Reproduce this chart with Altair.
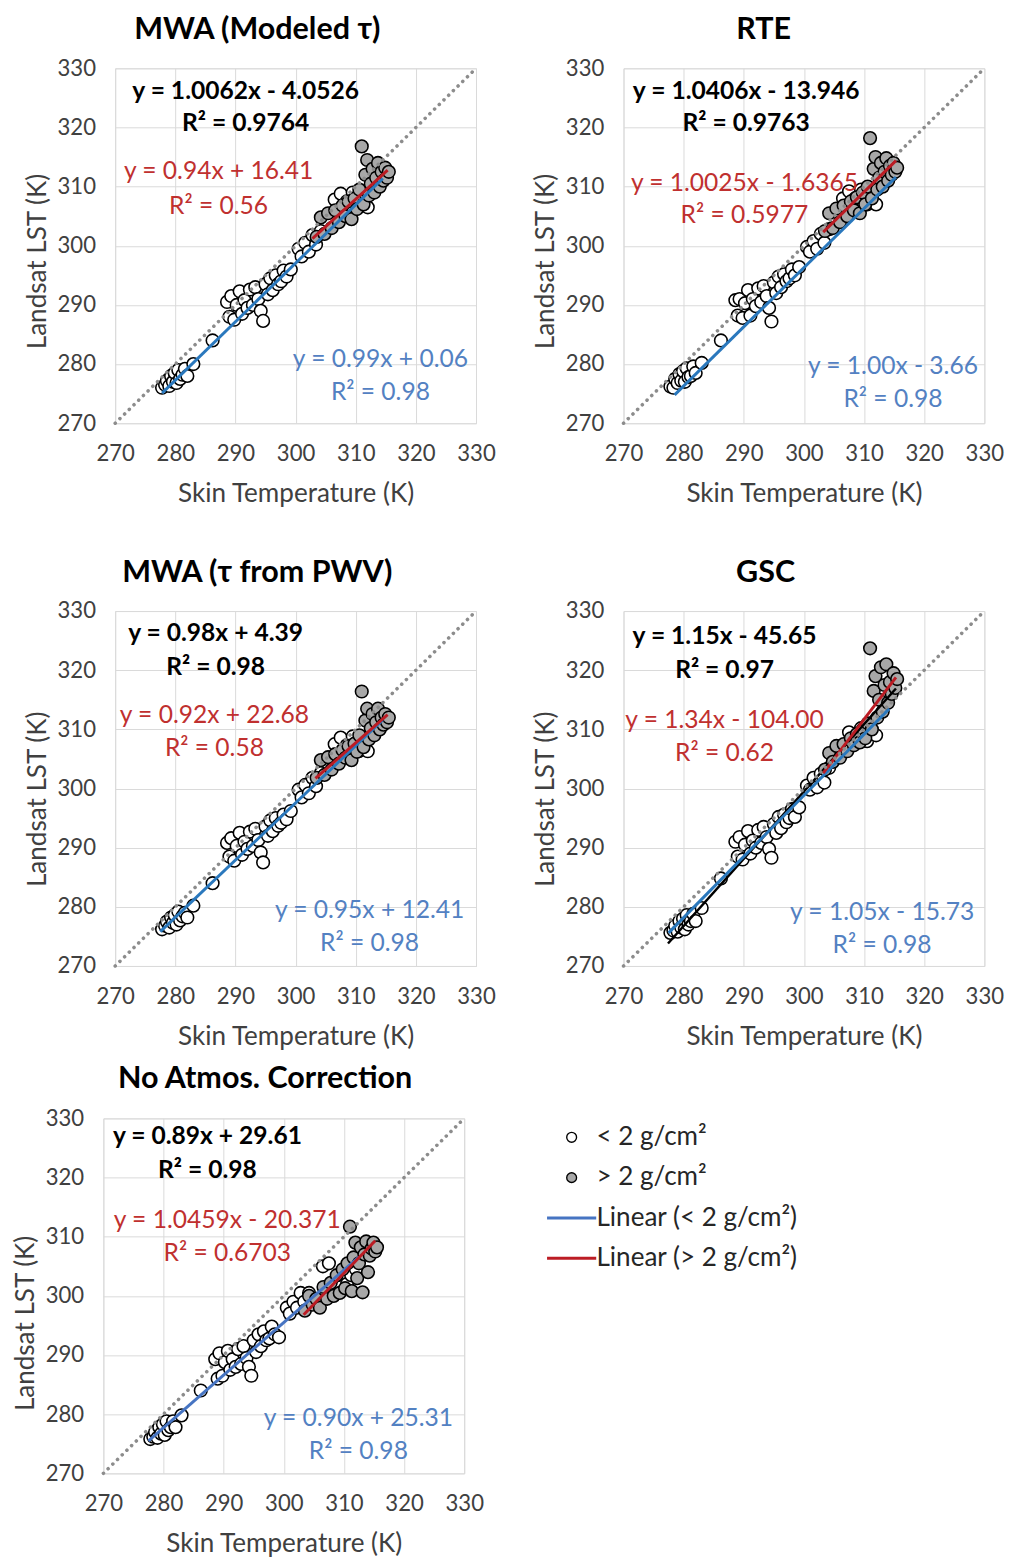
import altair as alt
import pandas as pd

# ---------------- data ----------------
SERIES = ["< 2 g/cm²", "> 2 g/cm²", "Linear (< 2 g/cm²)", "Linear (> 2 g/cm²)"]

# skin temperature of the stations (shared by all panels)
x_open = [277.8, 278.3, 278.6, 279.0, 279.3, 279.6, 279.9, 280.2, 280.5, 280.8, 281.2, 281.6, 282.0, 283.0,
          286.2,
          288.6, 289.0, 289.3, 289.8, 290.2, 290.7, 291.1, 291.5, 292.0, 292.4, 292.9, 293.3, 293.8, 294.2,
          294.6, 295.0, 295.4, 295.8, 296.2, 296.7, 297.1, 297.6, 298.0, 298.5, 299.2,
          300.5, 301.0, 301.6, 302.2, 302.8, 303.4, 304.2, 306.5, 307.5, 308.5, 309.5, 310.5, 311.2, 312.0]
x_gray = [303.5, 304.2, 304.8, 305.4, 306.0, 306.6, 307.2, 307.8, 308.3, 308.8, 309.3, 309.8, 310.2, 310.6,
          311.0, 311.3, 311.6, 311.9, 312.2, 312.5, 312.8, 313.1, 313.4, 313.7, 314.0, 314.3, 314.6, 314.9,
          315.2, 315.5]

# Landsat LST per panel
mwa_open = [276.0, 276.5, 277.2, 276.3, 278.0, 277.0, 278.5, 276.8, 279.0, 277.5, 278.2, 279.2, 278.0, 280.0,
            284.0,
            290.5, 288.0, 291.5, 287.5, 290.0, 292.3, 288.5, 290.8, 289.5, 292.6, 290.0, 293.0, 291.0, 289.0,
            287.3, 293.5, 291.8, 294.5, 292.5, 295.0, 293.5, 294.0, 295.8, 294.8, 296.0,
            299.5, 298.2, 300.5, 299.0, 301.8, 300.2, 302.5, 307.8, 308.8, 307.5, 309.0, 306.5, 307.8, 306.5]
mwa_gray = [301.5, 304.8, 302.0, 305.5, 303.0, 306.0, 304.0, 306.8, 305.0, 307.5, 304.5, 308.0, 306.2, 309.5,
            316.8, 307.0, 312.0, 314.5, 308.5, 310.5, 313.0, 309.0, 311.5, 314.0, 310.0, 312.5, 311.0, 313.2,
            311.5, 312.5]

rte_open = [276.2, 276.0, 277.5, 276.8, 278.3, 277.2, 278.8, 277.0, 279.3, 277.8, 278.0, 279.6, 278.5, 280.2,
            284.0,
            290.8, 288.2, 291.0, 287.8, 290.3, 292.5, 288.2, 291.0, 289.8, 292.8, 290.5, 293.2, 291.5, 289.5,
            287.2, 293.8, 292.0, 294.8, 293.0, 295.2, 294.0, 294.5, 296.0, 295.0, 296.4,
            299.8, 299.0, 300.8, 299.5, 302.0, 300.5, 302.8, 308.0, 309.2, 308.0, 309.5, 307.0, 308.2, 307.0]
rte_gray = [302.5, 305.5, 303.0, 306.3, 304.0, 306.8, 305.0, 307.5, 306.0, 308.2, 305.5, 309.0, 307.0, 310.0,
            318.2, 308.0, 313.0, 315.0, 309.5, 311.5, 314.0, 310.0, 312.5, 314.8, 311.0, 313.5, 312.0, 314.0,
            312.5, 313.2]

pwv_open = [276.2, 276.8, 277.5, 276.5, 278.2, 277.3, 278.6, 277.0, 279.2, 277.7, 278.4, 279.0, 278.2, 280.2,
            284.0,
            290.8, 288.5, 291.6, 287.8, 290.3, 292.5, 288.8, 291.0, 289.8, 292.7, 290.3, 293.2, 291.3, 289.2,
            287.5, 293.6, 292.0, 294.6, 292.8, 295.0, 293.7, 294.2, 295.6, 294.8, 296.2,
            299.8, 298.5, 300.6, 299.2, 301.8, 300.4, 302.6, 307.5, 308.6, 307.3, 308.8, 306.3, 307.5, 306.3]
pwv_gray = [301.8, 304.8, 302.3, 305.3, 303.2, 305.8, 304.2, 306.5, 305.2, 307.2, 304.8, 307.6, 306.2, 309.0,
            316.4, 307.0, 311.5, 313.5, 308.3, 310.2, 312.6, 309.0, 311.2, 313.5, 310.0, 312.0, 310.8, 312.6,
            311.2, 312.0]

gsc_open = [275.6, 276.0, 276.8, 275.8, 277.6, 276.5, 278.0, 276.2, 278.6, 277.0, 277.6, 278.8, 277.6, 279.8,
            284.8,
            291.0, 288.5, 291.8, 288.0, 290.5, 292.8, 289.0, 291.2, 290.0, 293.0, 290.8, 293.5, 291.8, 289.8,
            288.3, 294.0, 292.5, 295.2, 293.3, 295.6, 294.3, 295.0, 296.5, 295.2, 296.8,
            300.5, 299.8, 301.8, 300.2, 302.5, 301.0, 303.5, 307.0, 309.5, 308.8, 310.2, 308.0, 309.3, 309.0]
gsc_gray = [303.2, 306.0, 304.5, 307.2, 305.2, 307.5, 306.3, 308.5, 307.3, 309.2, 307.8, 310.0, 308.5, 311.0,
            323.7, 310.0, 316.5, 319.0, 312.0, 315.0, 320.5, 313.0, 317.5, 321.0, 314.5, 318.0, 316.0, 319.5,
            317.0, 318.5]

noc_open = [275.8, 276.2, 277.0, 276.0, 277.8, 276.7, 278.3, 276.5, 278.8, 277.3, 277.8, 278.8, 277.8, 279.8,
            284.0,
            289.3, 286.0, 290.3, 286.5, 288.8, 290.7, 287.5, 289.3, 288.0, 291.0, 288.5, 291.5, 289.5, 288.0,
            286.5, 292.5, 290.5, 293.5, 291.5, 294.0, 292.5, 292.8, 294.8, 293.5, 293.0,
            298.0, 297.0, 299.0, 298.0, 300.5, 299.0, 300.5, 305.0, 305.5, 302.5, 301.5, 302.0, 303.5, 304.5]
noc_gray = [297.5, 300.0, 298.5, 299.5, 298.0, 301.5, 299.5, 302.2, 300.0, 303.5, 300.5, 304.5, 301.3, 305.5,
            311.7, 300.8, 306.5, 309.0, 303.0, 305.5, 308.2, 300.6, 307.0, 309.2, 304.0, 306.8, 308.0, 309.0,
            307.5, 308.2]

# trend-line end points
blue_x = [[277.8, 314.5], [278.5, 315.3], [277.5, 314.5], [277.5, 314.2], [277.5, 312.5]]
blue_y = [[275.1, 311.4], [274.8, 311.6], [275.8, 311.6], [275.6, 313.5], [275.5, 306.6]]
red_x = [[302.8, 315.3], [303.2, 315.3], [303.3, 315.3], [303.2, 315.3], [303.3, 315.2]]
red_y = [[301.2, 312.8], [302.3, 314.4], [301.7, 312.5], [302.6, 318.8], [296.8, 309.3]]
gsc_all_x = [277.4, 315.3]
gsc_all_y = [273.8, 316.9]
one_to_one = [270, 330]

titles = ["MWA (Modeled τ)", "RTE", "MWA (τ from PWV)", "GSC", "No Atmos. Correction"]
eq_black = ["y = 1.0062x - 4.0526", "y = 1.0406x - 13.946", "y = 0.98x + 4.39", "y = 1.15x - 45.65", "y = 0.89x + 29.61"]
r2_black = ["R² = 0.9764", "R² = 0.9763", "R² = 0.98", "R² = 0.97", "R² = 0.98"]
eq_red = ["y = 0.94x + 16.41", "y = 1.0025x - 1.6365", "y = 0.92x + 22.68", "y = 1.34x - 104.00", "y = 1.0459x - 20.371"]
r2_red = ["R² = 0.56", "R² = 0.5977", "R² = 0.58", "R² = 0.62", "R² = 0.6703"]
eq_blue = ["y = 0.99x + 0.06", "y = 1.00x - 3.66", "y = 0.95x + 12.41", "y = 1.05x - 15.73", "y = 0.90x + 25.31"]
r2_blue = ["R² = 0.98", "R² = 0.98", "R² = 0.98", "R² = 0.98", "R² = 0.98"]

# ---------------- layout / style ----------------
# annotation anchor positions (data coordinates): black line1, black line2, red1, red2, blue1, blue2
ann_pos = [
    [(291.7, 326.2), (291.7, 320.7), (287.2, 312.6), (287.2, 306.7), (314.1, 280.8), (314.1, 275.2)],
    [(290.4, 326.2), (290.4, 320.7), (290.1, 310.6), (290.1, 305.2), (314.8, 279.7), (314.8, 274.0)],
    [(286.7, 326.2), (286.7, 320.6), (286.5, 312.4), (286.5, 306.8), (312.3, 279.5), (312.3, 273.9)],
    [(286.8, 325.7), (286.8, 320.0), (286.8, 311.6), (286.8, 305.9), (313.0, 279.1), (313.0, 273.5)],
    [(287.3, 327.0), (287.3, 321.3), (290.6, 312.8), (290.6, 307.3), (312.4, 279.3), (312.4, 273.7)],
]
title_dx = [-39, -41, -39, -39, -19]
title_off = [12, 12, 12, 12, 13]
ytitle_y = [196, 196, 191, 191, 208]
YTITLE_PAD = 6

FONT = "Lato"
BLUE = "#2A78BD"
BLUE5 = "#4674C2"
RED = "#BC1C24"
RED_TXT = "#C0302F"
BLUE_TXT = "#5381C2"
GRAY_FILL = "#A8A8A8"
GRID = "#D9D9D9"
AX_TXT = "#404040"
W, H = 367, 361
TICKS = [270, 280, 290, 300, 310, 320, 330]
LINE_SYM = "M-5,-0.3H5V0.3H-5Z"

legend = alt.Legend(title=None, orient="none", legendX=558, legendY=1074, labelFont=FONT,
                    labelFontSize=26.5, labelColor="#262626", rowPadding=14, padding=0,
                    labelOffset=12, labelLimit=0, symbolSize=100, symbolStrokeWidth=1.4)


def xy(i):
    xe = alt.X("x:Q", scale=alt.Scale(domain=[270, 330], nice=False, zero=False),
               axis=alt.Axis(values=TICKS, title="Skin Temperature (K)", grid=True, gridColor=GRID,
                             domain=False, ticks=False, labelPadding=20, labelFlush=False,
                             labelOverlap=False, labelFont=FONT, labelFontSize=22.5, labelColor=AX_TXT,
                             titleFont=FONT, titleFontSize=26.5, titleFontWeight="normal",
                             titleColor=AX_TXT, titlePadding=16))
    ye = alt.Y("y:Q", scale=alt.Scale(domain=[270, 330], nice=False, zero=False),
               axis=alt.Axis(values=TICKS, title="Landsat LST (K)", grid=True, gridColor=GRID,
                             domain=False, ticks=False, labelPadding=20, labelFlush=False,
                             labelOverlap=False, labelFont=FONT, labelFontSize=22.5, labelColor=AX_TXT,
                             titleFont=FONT, titleFontSize=26.5, titleFontWeight="normal",
                             titleColor=AX_TXT, titlePadding=YTITLE_PAD, titleY=ytitle_y[i]))
    return xe, ye


def panel(i, yo, yg):
    xe, ye = xy(i)
    pts = pd.DataFrame({"x": x_open + x_gray, "y": yo + yg,
                        "series": [SERIES[0]] * len(x_open) + [SERIES[1]] * len(x_gray)})
    points = alt.Chart(pts).mark_point(filled=False, opacity=1, size=165, strokeWidth=1.6).encode(
        x=xe, y=ye,
        fill=alt.Fill("series:N", scale=alt.Scale(domain=SERIES, range=["#FFFFFF", GRAY_FILL, BLUE5, RED]), legend=legend),
        stroke=alt.Stroke("series:N", scale=alt.Scale(domain=SERIES, range=["#000000", "#000000", "transparent", "transparent"]), legend=legend),
        shape=alt.Shape("series:N", scale=alt.Scale(domain=SERIES, range=["circle", "circle", LINE_SYM, LINE_SYM]), legend=legend),
    )
    layers = [points]
    if i == 3:
        blk = pd.DataFrame({"x": gsc_all_x, "y": gsc_all_y})
        layers.append(alt.Chart(blk).mark_line(color="#000000", strokeWidth=2.5).encode(x=xe, y=ye))
    bl = pd.DataFrame({"x": blue_x[i], "y": blue_y[i]})
    layers.append(alt.Chart(bl).mark_line(color=BLUE5 if i == 4 else BLUE, strokeWidth=3).encode(x=xe, y=ye))
    rd = pd.DataFrame({"x": red_x[i], "y": red_y[i]})
    layers.append(alt.Chart(rd).mark_line(color=RED, strokeWidth=3).encode(x=xe, y=ye))
    one = pd.DataFrame({"x": one_to_one, "y": one_to_one})
    layers.append(alt.Chart(one).mark_line(color="#8C8C8C", strokeWidth=3.6, strokeDash=[0.1, 6.6],
                                           strokeCap="round").encode(x=xe, y=ye))
    p = ann_pos[i]
    tb = pd.DataFrame({"x": [p[0][0], p[1][0]], "y": [p[0][1], p[1][1]], "t": [eq_black[i], r2_black[i]]})
    tr = pd.DataFrame({"x": [p[2][0], p[3][0]], "y": [p[2][1], p[3][1]], "t": [eq_red[i], r2_red[i]]})
    tbl = pd.DataFrame({"x": [p[4][0], p[5][0]], "y": [p[4][1], p[5][1]], "t": [eq_blue[i], r2_blue[i]]})
    layers.append(alt.Chart(tb).mark_text(font=FONT, fontSize=25, fontWeight="bold", color="#000000")
                  .encode(x=xe, y=ye, text="t:N"))
    layers.append(alt.Chart(tr).mark_text(font=FONT, fontSize=25, color=RED_TXT)
                  .encode(x=xe, y=ye, text="t:N"))
    layers.append(alt.Chart(tbl).mark_text(font=FONT, fontSize=25, color=BLUE_TXT)
                  .encode(x=xe, y=ye, text="t:N"))
    return alt.layer(*layers).properties(
        width=W, height=H,
        title=alt.TitleParams(titles[i], font=FONT, fontSize=31, fontWeight="bold", color="#000000",
                              anchor="middle", frame="group", dx=title_dx[i], offset=title_off[i]))


def spacer(w):
    # empty layout cell: shifts the bottom panel's column relative to the upper rows
    return alt.Chart(pd.DataFrame({"a": [0]})).mark_point(opacity=0, size=1).properties(
        width=w, height=1, view=alt.ViewBackground(stroke="transparent", fill="transparent"))


p1 = panel(0, mwa_open, mwa_gray)
p2 = panel(1, rte_open, rte_gray)
p3 = panel(2, pwv_open, pwv_gray)
p4 = panel(3, gsc_open, gsc_gray)
p5 = panel(4, noc_open, noc_gray)

row1 = alt.hconcat(spacer(13), alt.hconcat(p1, p2, spacing=36), spacing=0)
row2 = alt.hconcat(spacer(13), alt.hconcat(p3, p4, spacing=36), spacing=0)
row3 = alt.hconcat(spacer(1), p5, spacing=0)

chart = alt.vconcat(alt.vconcat(row1, row2, spacing=49), row3, spacing=12).properties(
    padding={"left": 1, "top": -8, "right": 0, "bottom": 0}
).configure_view(stroke=GRID, strokeWidth=1).configure(background="#FFFFFF")

chart.save("out.html", embed_options={"renderer": "svg", "actions": False})
